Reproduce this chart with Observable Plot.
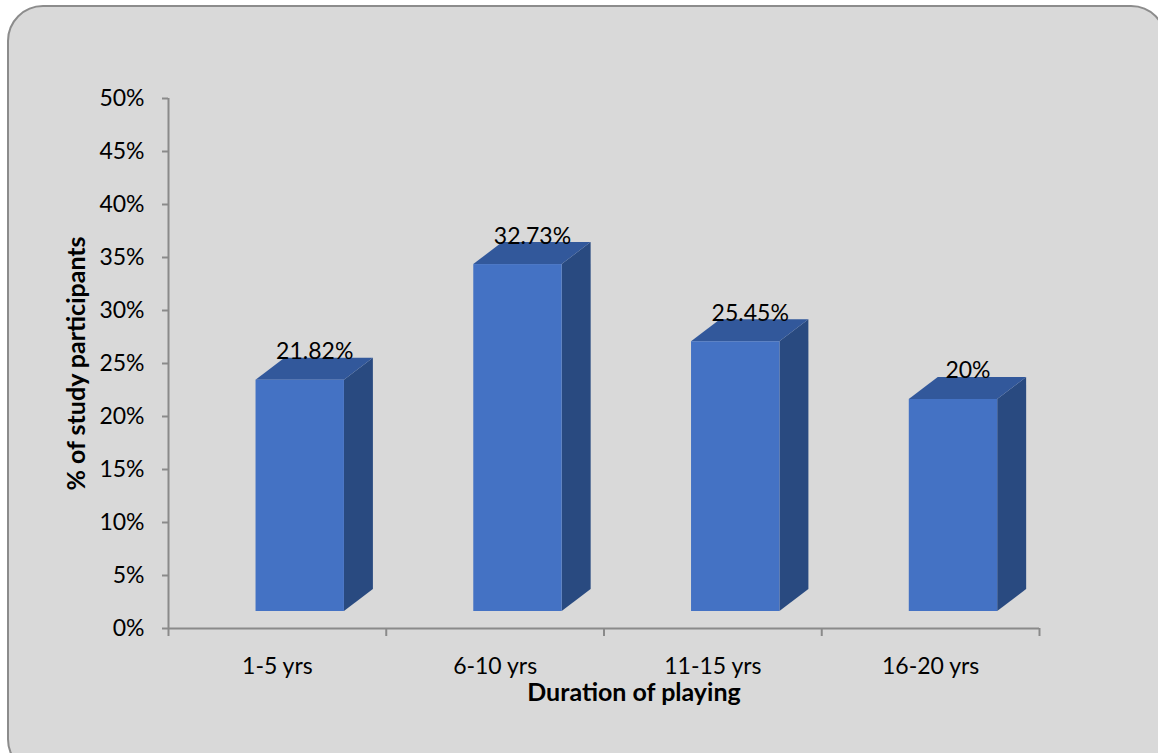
<!DOCTYPE html>
<html>
<head>
<meta charset="utf-8">
<script src="https://cdn.jsdelivr.net/npm/d3@7"></script>
<script src="https://cdn.jsdelivr.net/npm/@observablehq/plot@0.6"></script>
<style>
  html, body { margin: 0; padding: 0; width: 1158px; height: 753px; overflow: hidden; background: #ffffff; }
  #panel {
    position: absolute; left: 7px; top: 5px; width: 1160px; height: 770px;
    box-sizing: border-box; background: #d9d9d9; border: 2px solid #8c8c8c; border-radius: 36px;
  }
  #chart { position: absolute; left: 0; top: 0; }
</style>
</head>
<body>
<div id="panel"></div>
<div id="chart"></div>
<script>
// Share of study participants by years spent playing
const categories = ["1-5 yrs", "6-10 yrs", "11-15 yrs", "16-20 yrs"];
const shares = [21.82, 32.73, 25.45, 20];
const yTicks = [0, 5, 10, 15, 20, 25, 30, 35, 40, 45, 50];

// 3D block geometry, in x-index units (one category per unit) and percent units
const faceLeft = 0.402, faceRight = 0.808;   // front face inside each category slot
const depthX = 0.133, depthY = 2.08;         // receding depth of the block
const lift = -17;                            // floor of the blocks sits above the axis (px)

const frontColor = "#4472c4", topColor = "#32589b", sideColor = "#294a80";
const axisColor = "#8a8a8a";

const rows = categories.map((c, i) => ({cat: c, i, value: shares[i]}));

const sides = rows.flatMap(d => [
  {cat: d.cat, x: d.i + faceRight, y1: 0, y2: d.value},
  {cat: d.cat, x: d.i + faceRight + depthX, y1: depthY, y2: d.value + depthY}
]);
const tops = rows.flatMap(d => [
  {cat: d.cat, y: d.value, x1: d.i + faceLeft, x2: d.i + faceRight},
  {cat: d.cat, y: d.value + depthY, x1: d.i + faceLeft + depthX, x2: d.i + faceRight + depthX}
]);

const chart = Plot.plot({
  width: 1158,
  height: 753,
  marginLeft: 168,
  marginRight: 119,
  marginTop: 98,
  marginBottom: 125,
  style: {fontFamily: "Lato, 'Open Sans', sans-serif", fontSize: "23px", background: "transparent", color: "black", overflow: "visible"},
  x: {type: "linear", domain: [0, categories.length]},
  y: {domain: [0, 50]},
  marks: [
    // axes
    Plot.axisY({ticks: yTicks, tickFormat: d => d + "%", tickSize: 6, tickPadding: 18, stroke: axisColor, strokeWidth: 2, fill: "black", label: null}),
    Plot.axisX({ticks: d3.range(categories.length + 1), tickFormat: () => "", tickSize: 8, stroke: axisColor, strokeWidth: 2, label: null}),
    Plot.axisX({ticks: categories.map((c, i) => i + 0.5), tickFormat: d => categories[Math.floor(d)], tickSize: 0, tickPadding: 29, fill: "black", label: null}),
    Plot.ruleX([0], {stroke: axisColor, strokeWidth: 2}),
    Plot.ruleY([0], {stroke: axisColor, strokeWidth: 2}),
    // 3D blocks: side, top, front
    Plot.areaY(sides, {x: "x", y1: "y1", y2: "y2", z: "cat", fill: sideColor, dy: lift}),
    Plot.areaX(tops, {y: "y", x1: "x1", x2: "x2", z: "cat", fill: topColor, dy: lift}),
    Plot.rect(rows, {x1: d => d.i + faceLeft, x2: d => d.i + faceRight, y1: 0, y2: "value", fill: frontColor, dy: lift}),
    // value labels
    Plot.text(rows, {
      x: d => d.i + (faceLeft + faceRight + depthX) / 2,
      y: d => d.value + depthY,
      text: d => d.value + "%",
      lineAnchor: "bottom",
      dy: lift + 1,
      fill: "black"
    }),
    // axis titles
    Plot.text(["Duration of playing"], {frameAnchor: "bottom", textAnchor: "middle", dx: 30, dy: 72, lineAnchor: "bottom", fontWeight: "bold", fontSize: 25, fill: "black"}),
    Plot.text(["% of study participants"], {frameAnchor: "left", textAnchor: "middle", dx: -92, rotate: -90, lineAnchor: "middle", fontWeight: "bold", fontSize: 25, fill: "black"})
  ]
});

document.getElementById("chart").append(chart);
</script>
</body>
</html>
